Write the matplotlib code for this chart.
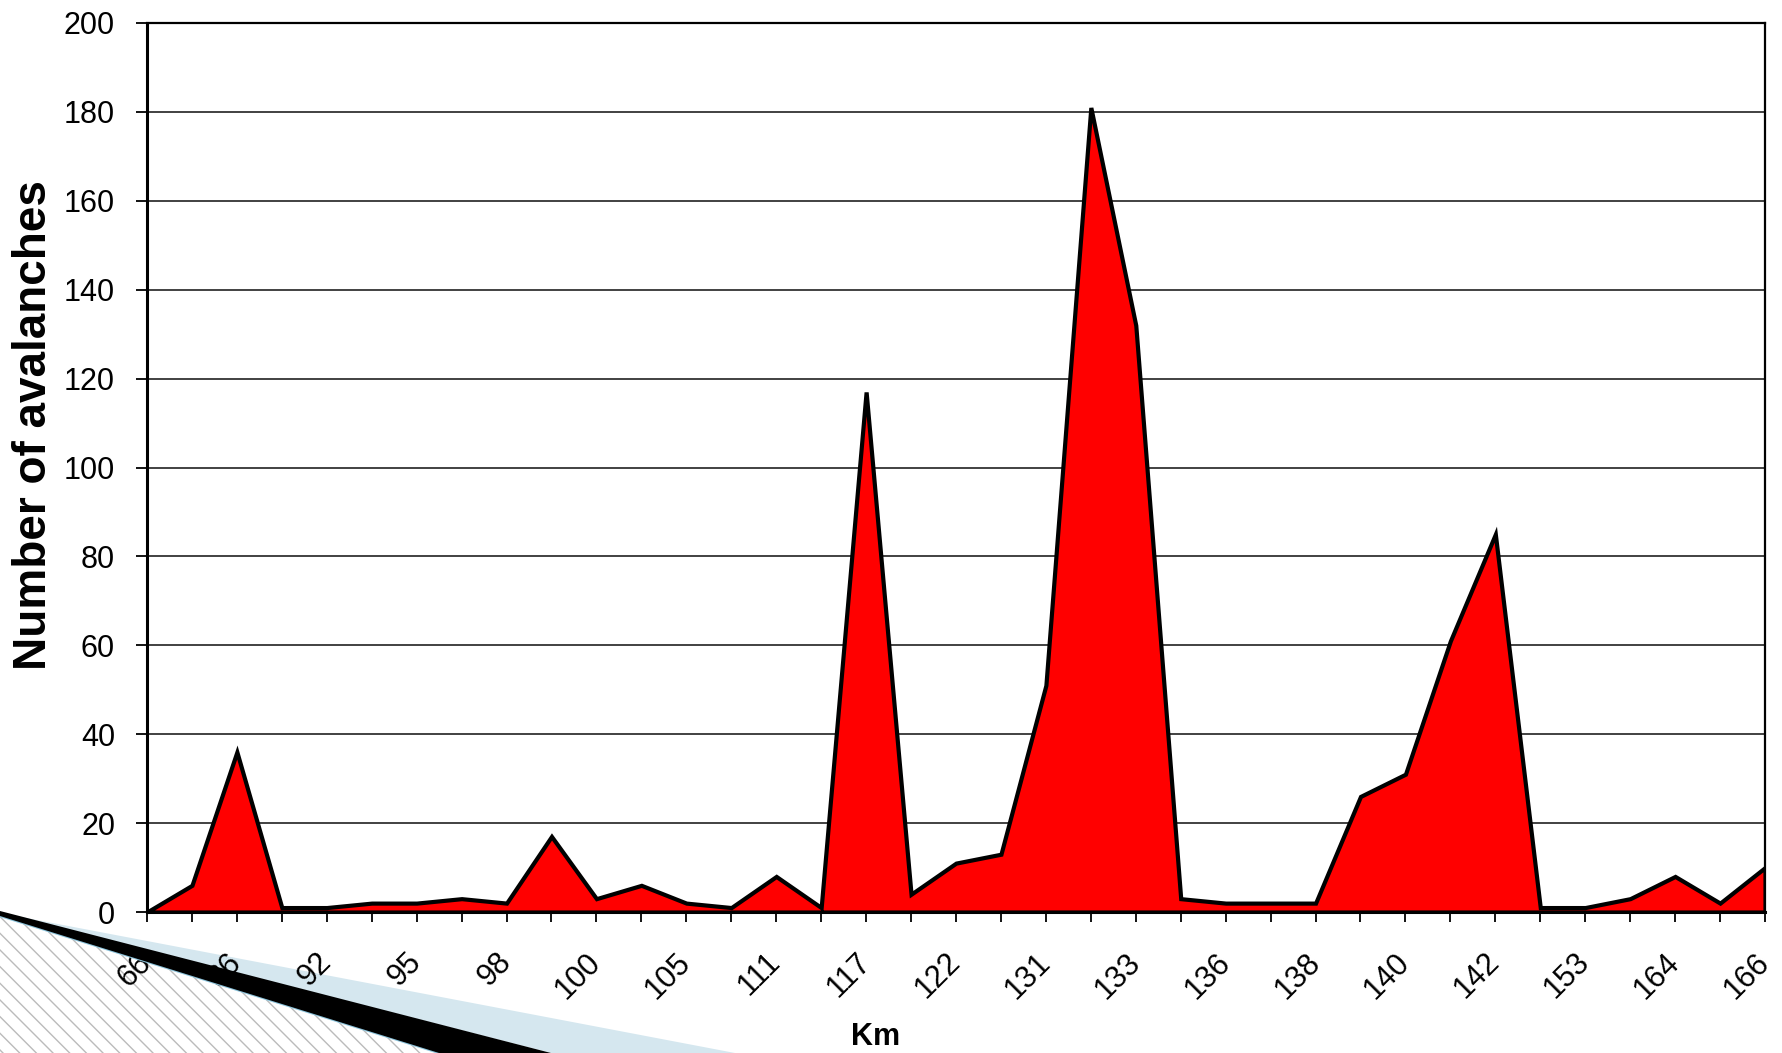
# Area chart: number of avalanches along the road (Km)

import matplotlib
matplotlib.use("Agg")
import matplotlib.pyplot as plt
from matplotlib.patches import Polygon
from matplotlib.lines import Line2D
import numpy as np

plt.rcParams['font.family'] = ['Liberation Sans', 'DejaVu Sans']

# Km labels shown on the axis (every second category is labelled)
km_labels = ['66', '86', '92', '95', '98', '100', '105', '111', '117', '122',
             '131', '133', '136', '138', '140', '142', '153', '164', '166']

# Number of avalanches for each of the 37 categories
avalanches = [0, 6, 36, 1, 1, 2, 2, 3, 2, 17, 3, 6, 2, 1, 8, 1, 117, 4, 11,
              13, 51, 181, 132, 3, 2, 2, 2, 26, 31, 61, 85, 1, 1, 3, 8, 2, 10]

yticks = [0, 20, 40, 60, 80, 100, 120, 140, 160, 180, 200]

# Build tick labels: label on even categories, blank on odd ones
x = np.arange(len(avalanches))
tick_labels = []
for i in x:
    tick_labels.append(km_labels[i // 2] if i % 2 == 0 else '')

fig = plt.figure(figsize=(17.83, 10.53), dpi=100)
ax = fig.add_axes([147 / 1783, 1 - 912 / 1053, (1765 - 147) / 1783, (912 - 23) / 1053])

ax.fill_between(x, avalanches, 0, facecolor='#FF0000', edgecolor='black',
                linewidth=3, zorder=3, joinstyle='miter')

ax.set_xlim(0, len(avalanches) - 1)
ax.set_ylim(0, 200)
ax.set_yticks(yticks)
ax.yaxis.grid(True, color='#333333', linewidth=1.3)
ax.set_axisbelow(True)

ax.set_xticks(x)
ax.set_xticklabels(tick_labels, rotation=45, ha='right', va='center',
                   rotation_mode='anchor', fontsize=22)
ax.tick_params(axis='x', length=7, width=1.3, pad=26, color='black')
ax.tick_params(axis='y', length=8, width=1.3, pad=15, labelsize=22)

for side in ['left', 'bottom']:
    ax.spines[side].set_linewidth(2.2)
for side in ['top', 'right']:
    ax.spines[side].set_linewidth(1.6)

fig.text(34 / 1783, 1 - 425 / 1053, 'Number of avalanches', rotation=90,
         fontsize=33, fontweight='bold', ha='center', va='center')
fig.text(876 / 1783, 1 - 1037 / 1053, 'Km', fontsize=22, fontweight='bold',
         ha='center', va='center')

# Slide decoration in the lower left corner
W, H = 1783, 1053
def fpts(pts):
    return [(px / W, 1 - py / H) for px, py in pts]

hatched = Polygon(fpts([(0, 913), (439, 1053), (0, 1053)]), closed=True,
                  transform=fig.transFigure, facecolor='white',
                  edgecolor='#BBBBBB', hatch='\\\\', linewidth=0, zorder=-1)
blue = Polygon(fpts([(0, 913), (735, 1053), (551, 1053)]), closed=True,
               transform=fig.transFigure, facecolor='#D5E7EF',
               edgecolor='none', zorder=-1)
black = Polygon(fpts([(0, 911), (551, 1053), (439, 1053), (0, 916)]), closed=True,
                transform=fig.transFigure, facecolor='black',
                edgecolor='none', zorder=5)
edge = Line2D([0, 439 / W], [1 - 916 / H, 0], transform=fig.transFigure,
              color='#8CC4DC', linewidth=1.5, zorder=4)
for artist in [hatched, blue, black, edge]:
    fig.add_artist(artist)

plt.savefig('out.png', dpi=100)
plt.close()
